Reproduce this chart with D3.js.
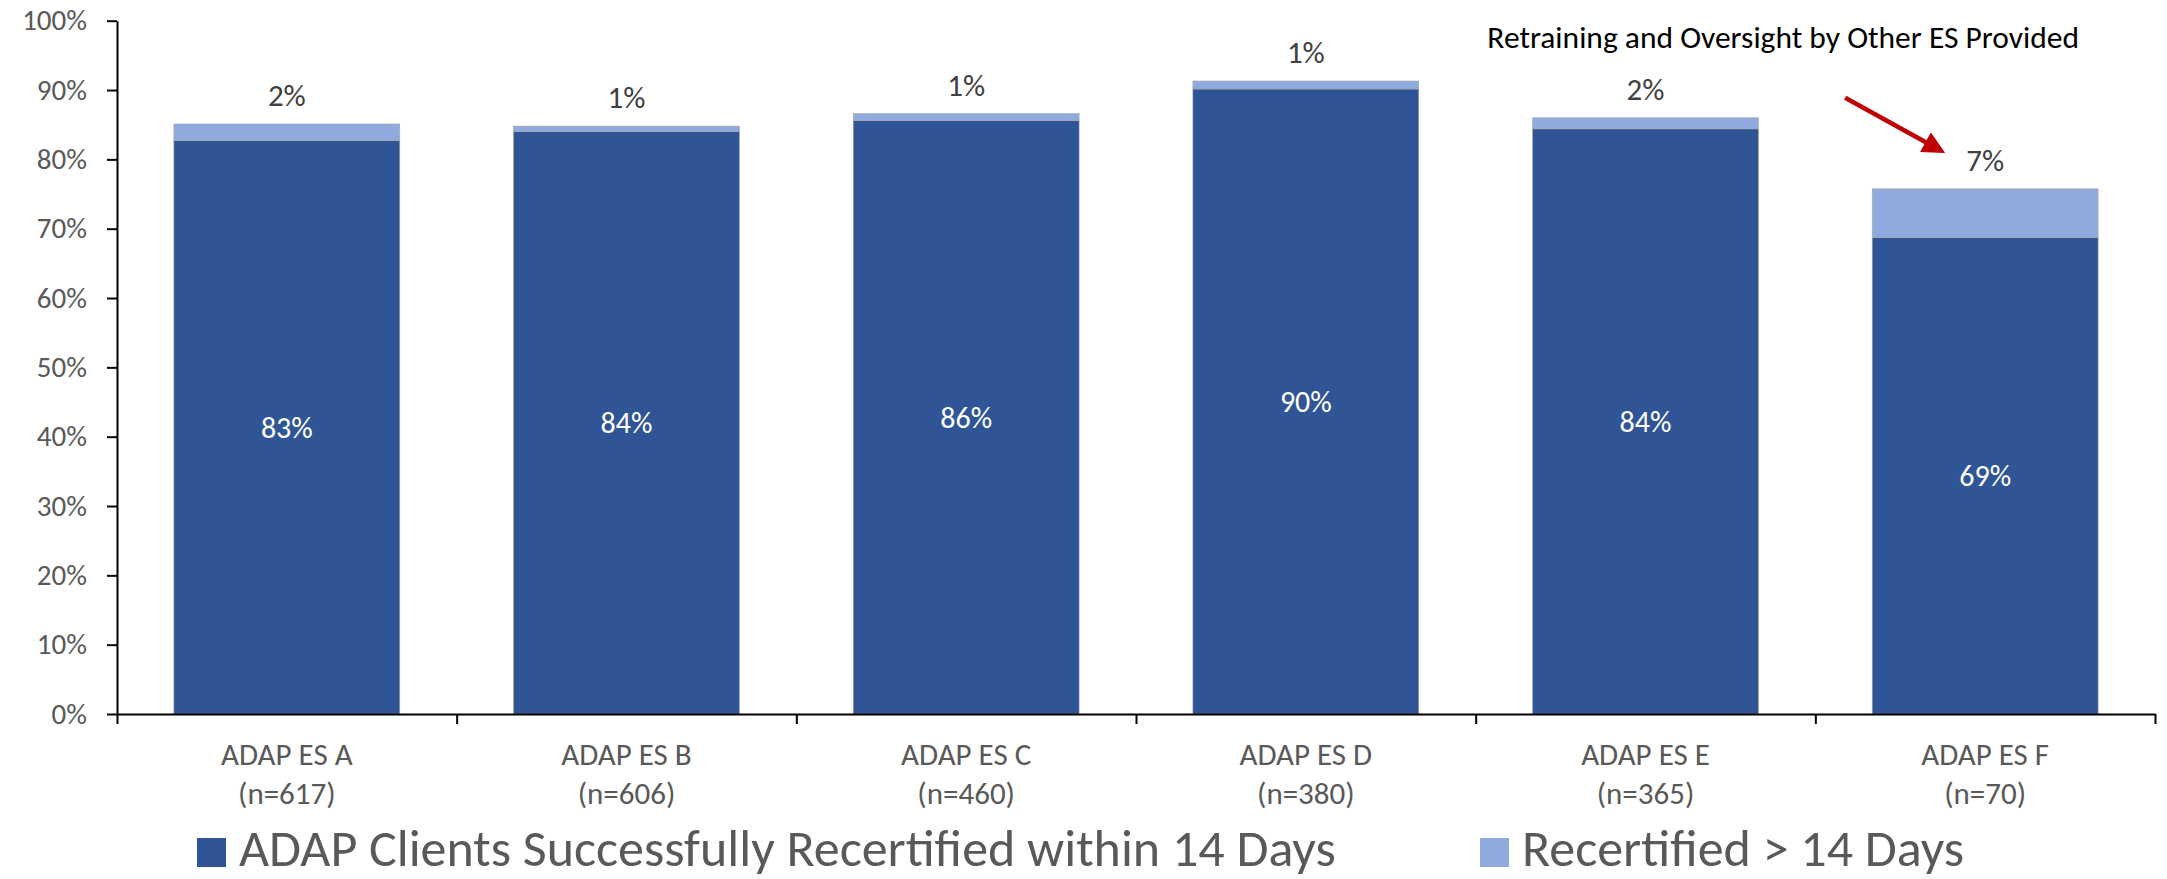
<!DOCTYPE html>
<html>
<head>
<meta charset="utf-8">
<script src="https://cdn.jsdelivr.net/npm/d3@7"></script>
<style>
  body { margin: 0; background: #fff; }
  text { font-family: Carlito, Calibri, Lato, "Liberation Sans", sans-serif; }
</style>
</head>
<body>
<svg id="chart" width="2167" height="879"></svg>
<script>

// data
var categories = ["ADAP ES A", "ADAP ES B", "ADAP ES C", "ADAP ES D", "ADAP ES E", "ADAP ES F"];
var sampleSizes = ["(n=617)", "(n=606)", "(n=460)", "(n=380)", "(n=365)", "(n=70)"];
var within14 = [82.7, 84.0, 85.6, 90.15, 84.4, 68.7];
var over14 = [2.4, 0.8, 1.0, 1.15, 1.6, 7.05];
var yTicks = [0, 10, 20, 30, 40, 50, 60, 70, 80, 90, 100];
var seriesNames = ["ADAP Clients Successfully Recertified within 14 Days", "Recertified > 14 Days"];
var annotationText = "Retraining and Oversight by Other ES Provided";

var darkBlue = "#2f5597";
var lightBlue = "#8faadc";

var svg = d3.select("#chart");

// plot area (window.top is taken, so no plain "top")
var plotLeft = 117, plotRight = 2155, plotTop = 20.7, plotBottom = 714;

// 1. scales
var x = d3.scaleBand()
    .domain(categories)
    .range([plotLeft, plotRight])
    .paddingInner(0.335)
    .paddingOuter(0.1675);

var xEdge = d3.scaleLinear()
    .domain([0, categories.length])
    .range([plotLeft, plotRight]);

var y = d3.scaleLinear()
    .domain([0, 100])
    .range([plotBottom, plotTop]);

var rows = categories.map(function(c, i) {
    return {cat: c, n: sampleSizes[i], a: within14[i], b: over14[i]};
});

// 2. bars
var bars = svg.append("g");

bars.selectAll(".dark")
    .data(rows)
    .enter().append("rect")
    .attr("class", "dark")
    .attr("x", function(d) { return x(d.cat); })
    .attr("y", function(d) { return y(d.a); })
    .attr("width", x.bandwidth())
    .attr("height", function(d) { return y(0) - y(d.a); })
    .attr("fill", darkBlue)
    .attr("stroke", "#a6a6a6")
    .attr("stroke-width", 0.6);

bars.selectAll(".light")
    .data(rows)
    .enter().append("rect")
    .attr("class", "light")
    .attr("x", function(d) { return x(d.cat); })
    .attr("y", function(d) { return y(d.a + d.b); })
    .attr("width", x.bandwidth())
    .attr("height", function(d) { return y(d.a) - y(d.a + d.b); })
    .attr("fill", lightBlue)
    .attr("stroke", "#a6a6a6")
    .attr("stroke-width", 0.6);

// 3. value labels
svg.selectAll(".lblDark")
    .data(rows)
    .enter().append("text")
    .attr("class", "lblDark")
    .attr("x", function(d) { return x(d.cat) + x.bandwidth() / 2; })
    .attr("y", function(d) { return (y(0) + y(d.a)) / 2; })
    .attr("dy", "0.35em")
    .attr("text-anchor", "middle")
    .attr("fill", "#fff")
    .style("font-size", "30px")
    .text(function(d) { return Math.round(d.a) + "%"; });

svg.selectAll(".lblLight")
    .data(rows)
    .enter().append("text")
    .attr("class", "lblLight")
    .attr("x", function(d) { return x(d.cat) + x.bandwidth() / 2; })
    .attr("y", function(d) { return y(d.a + d.b) - 18; })
    .attr("text-anchor", "middle")
    .attr("fill", "#404040")
    .style("font-size", "31px")
    .text(function(d) { return Math.round(d.b) + "%"; });

// 4. y axis
var yAxis = svg.append("g")
    .attr("transform", "translate(" + plotLeft + ",0)")
    .call(d3.axisLeft(y).tickValues(yTicks).tickSize(10).tickSizeOuter(0).tickPadding(20)
        .tickFormat(function(d) { return d + "%"; }));
yAxis.selectAll("path, line").attr("stroke", "#000").attr("stroke-width", 2);
yAxis.selectAll("text").attr("fill", "#595959").style("font-size", "29px");

// 5. x axis: ticks sit between the categories
var xAxis = svg.append("g")
    .attr("transform", "translate(0," + plotBottom + ")")
    .call(d3.axisBottom(xEdge).tickValues(d3.range(categories.length + 1)).tickSize(10).tickSizeOuter(0)
        .tickFormat(""));
xAxis.selectAll("path, line").attr("stroke", "#000").attr("stroke-width", 2);

var catLbl = svg.selectAll(".cat")
    .data(rows)
    .enter().append("text")
    .attr("class", "cat")
    .attr("text-anchor", "middle")
    .attr("fill", "#595959")
    .style("font-size", "31px");
catLbl.append("tspan")
    .attr("x", function(d) { return x(d.cat) + x.bandwidth() / 2; })
    .attr("y", 765)
    .text(function(d) { return d.cat; });
catLbl.append("tspan")
    .attr("x", function(d) { return x(d.cat) + x.bandwidth() / 2; })
    .attr("y", 804)
    .text(function(d) { return d.n; });

// 6. legend
var legendX = [197, 1480];
var legend = svg.selectAll(".legend")
    .data(seriesNames)
    .enter().append("g")
    .attr("class", "legend")
    .attr("transform", function(d, i) { return "translate(" + legendX[i] + ",838)"; });
legend.append("rect")
    .attr("width", 29)
    .attr("height", 29)
    .attr("fill", function(d, i) { return i == 0 ? darkBlue : lightBlue; });
legend.append("text")
    .attr("x", 42)
    .attr("y", 28)
    .attr("fill", "#595959")
    .style("font-size", "52px")
    .text(function(d) { return d; });

// 7. annotation with red arrow pointing at ES F
var defs = svg.append("defs");
defs.append("marker")
    .attr("id", "arrowHead")
    .attr("viewBox", "0 0 10 10")
    .attr("refX", 8)
    .attr("refY", 5)
    .attr("markerWidth", 5)
    .attr("markerHeight", 5)
    .attr("orient", "auto")
    .append("path")
    .attr("d", "M0,0 L10,5 L0,10 z")
    .attr("fill", "#c00000");

var fx = x(categories[5]) + x.bandwidth() / 2;
var fy = y(within14[5] + over14[5]);

svg.append("text")
    .attr("x", fx - 202)
    .attr("y", 48)
    .attr("text-anchor", "middle")
    .attr("fill", "#000")
    .style("font-size", "31.5px")
    .text(annotationText);

svg.append("line")
    .attr("x1", fx - 140)
    .attr("y1", fy - 91)
    .attr("x2", fx - 44)
    .attr("y2", fy - 38)
    .attr("stroke", "#c00000")
    .attr("stroke-width", 4.5)
    .attr("marker-end", "url(#arrowHead)");

</script>
</body>
</html>
